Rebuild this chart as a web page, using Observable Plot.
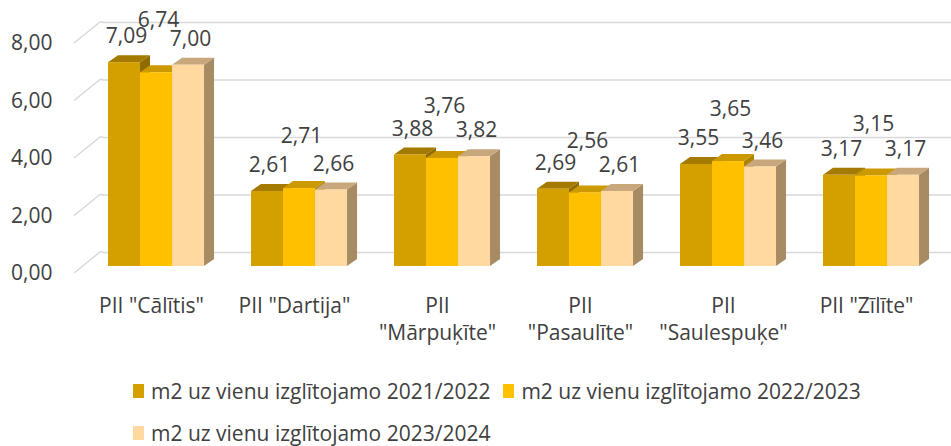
<!DOCTYPE html>
<html>
<head>
<meta charset="utf-8">
<script src="https://cdn.jsdelivr.net/npm/d3@7"></script>
<script src="https://cdn.jsdelivr.net/npm/@observablehq/plot@0.6"></script>
<style>
  html, body { margin: 0; padding: 0; background: #fff; overflow: hidden; }
  #chart svg { display: block; }
  .legend { display: flex; flex-wrap: wrap; width: 780px; margin: 22px 0 0 133px; column-gap: 13px; row-gap: 14px;
            font-family: "Open Sans", sans-serif; font-size: 21px; color: #404040; line-height: 28px; }
  .legend .item { display: flex; align-items: center; white-space: nowrap; }
  .legend .sw { width: 11px; height: 14px; margin-right: 7px; display: inline-block; }
</style>
</head>
<body>
<div id="chart"></div>
<div class="legend" id="legend"></div>
<script>
const categories = ['PII "Cālītis"', 'PII "Dartija"', 'PII "Mārpuķīte"', 'PII "Pasaulīte"', 'PII "Saulespuķe"', 'PII "Zīlīte"'];
const seriesNames = ["m2 uz vienu izglītojamo 2021/2022", "m2 uz vienu izglītojamo 2022/2023", "m2 uz vienu izglītojamo 2023/2024"];
const values2021 = [7.09, 2.61, 3.88, 2.69, 3.55, 3.17];
const values2022 = [6.74, 2.71, 3.76, 2.56, 3.65, 3.15];
const values2023 = [7.00, 2.66, 3.82, 2.61, 3.46, 3.17];
const yTicks = [0, 2, 4, 6, 8];

const seriesValues = [values2021, values2022, values2023];
const frontColors = ["#D4A000", "#FFC000", "#FFD9A0"];
const topColors = ["#A47B00", "#CC9A00", "#C8A77C"];
const sideColors = ["#8F6B00", "#AD8400", "#A68B63"];

const rows = categories.flatMap((cat, i) => seriesNames.map((s, j) => ({cat, series: s, si: j, value: seriesValues[j][i]})));

const W = 951, H = 355, mL = 83, mR = 8, mT = 36, mB = 89;
const padIn = 0.33, padOut = 0.165;
const step = (W - mL - mR) / (categories.length - padIn + 2 * padOut);
const bw = step * (1 - padIn);
const sub = bw / 3;
const depthX = 10, depthY = 7;

const fmt = v => d3.format(".2f")(v).replace(".", ",");
const wrap = c => c.length > 13 ? c.replace(" ", "\n") : c;

function faces(index, scales) {
  const sx = scales.x, sy = scales.y;
  const ns = "http://www.w3.org/2000/svg";
  const g = document.createElementNS(ns, "g");
  for (const d of rows) {
    const x0 = sx(d.cat) + d.si * sub, x1 = x0 + sub;
    const yt = sy(d.value), yb = sy(0);
    const side = document.createElementNS(ns, "polygon");
    side.setAttribute("points", `${x1},${yt} ${x1 + depthX},${yt - depthY} ${x1 + depthX},${yb - depthY} ${x1},${yb}`);
    side.setAttribute("fill", sideColors[d.si]);
    g.appendChild(side);
    const top = document.createElementNS(ns, "polygon");
    top.setAttribute("points", `${x0},${yt} ${x1},${yt} ${x1 + depthX},${yt - depthY} ${x0 + depthX},${yt - depthY}`);
    top.setAttribute("fill", topColors[d.si]);
    g.appendChild(top);
  }
  return g;
}

function diagonals(index, scales) {
  const sy = scales.y;
  const ns = "http://www.w3.org/2000/svg";
  const g = document.createElementNS(ns, "g");
  for (const t of yTicks) {
    const p = document.createElementNS(ns, "polyline");
    p.setAttribute("points", `${mL - 9},${sy(t) + 7} ${mL + 17},${sy(t) - 14} ${mL + 20},${sy(t) - 14}`);
    p.setAttribute("fill", "none");
    p.setAttribute("stroke", "#D9D9D9");
    p.setAttribute("stroke-width", 1.5);
    g.appendChild(p);
  }
  return g;
}

const marks = [
  Plot.ruleY(yTicks, {y: d => d, dy: -14, insetLeft: 19, insetRight: -mR, stroke: "#D9D9D9", strokeWidth: 1.5}),
  diagonals,
  faces
];
seriesNames.forEach((s, j) => {
  const data = rows.filter(d => d.si === j);
  marks.push(Plot.barY(data, {x: "cat", y: "value", fill: frontColors[j], insetLeft: j * sub, insetRight: (2 - j) * sub}));
});
seriesNames.forEach((s, j) => {
  const data = rows.filter(d => d.si === j);
  marks.push(Plot.text(data, {x: "cat", y: "value", text: d => fmt(d.value), dx: (j - 1) * sub + 2, dy: j === 1 ? -52 : -26, fill: "#404040"}));
});
marks.push(Plot.axisY(yTicks, {tickSize: 0, tickPadding: 31, dy: 7, tickFormat: fmt, fill: "#404040"}));
marks.push(Plot.axisX({tickSize: 0, tickPadding: 27, dx: -5, tickFormat: wrap, lineHeight: 1.3, fill: "#404040"}));

const chart = Plot.plot({
  width: W, height: H,
  marginLeft: mL, marginRight: mR, marginTop: mT, marginBottom: mB,
  style: {fontFamily: "Open Sans, sans-serif", fontSize: "21px", color: "#404040", background: "#fff"},
  x: {domain: categories, paddingInner: padIn, paddingOuter: padOut, label: null},
  y: {domain: [0, 8], label: null},
  marks
});
document.getElementById("chart").appendChild(chart);

const legend = document.getElementById("legend");
seriesNames.forEach((s, j) => {
  const item = document.createElement("div");
  item.className = "item";
  const sw = document.createElement("span");
  sw.className = "sw";
  sw.style.background = frontColors[j];
  item.appendChild(sw);
  item.appendChild(document.createTextNode(s));
  legend.appendChild(item);
});
</script>
</body>
</html>
